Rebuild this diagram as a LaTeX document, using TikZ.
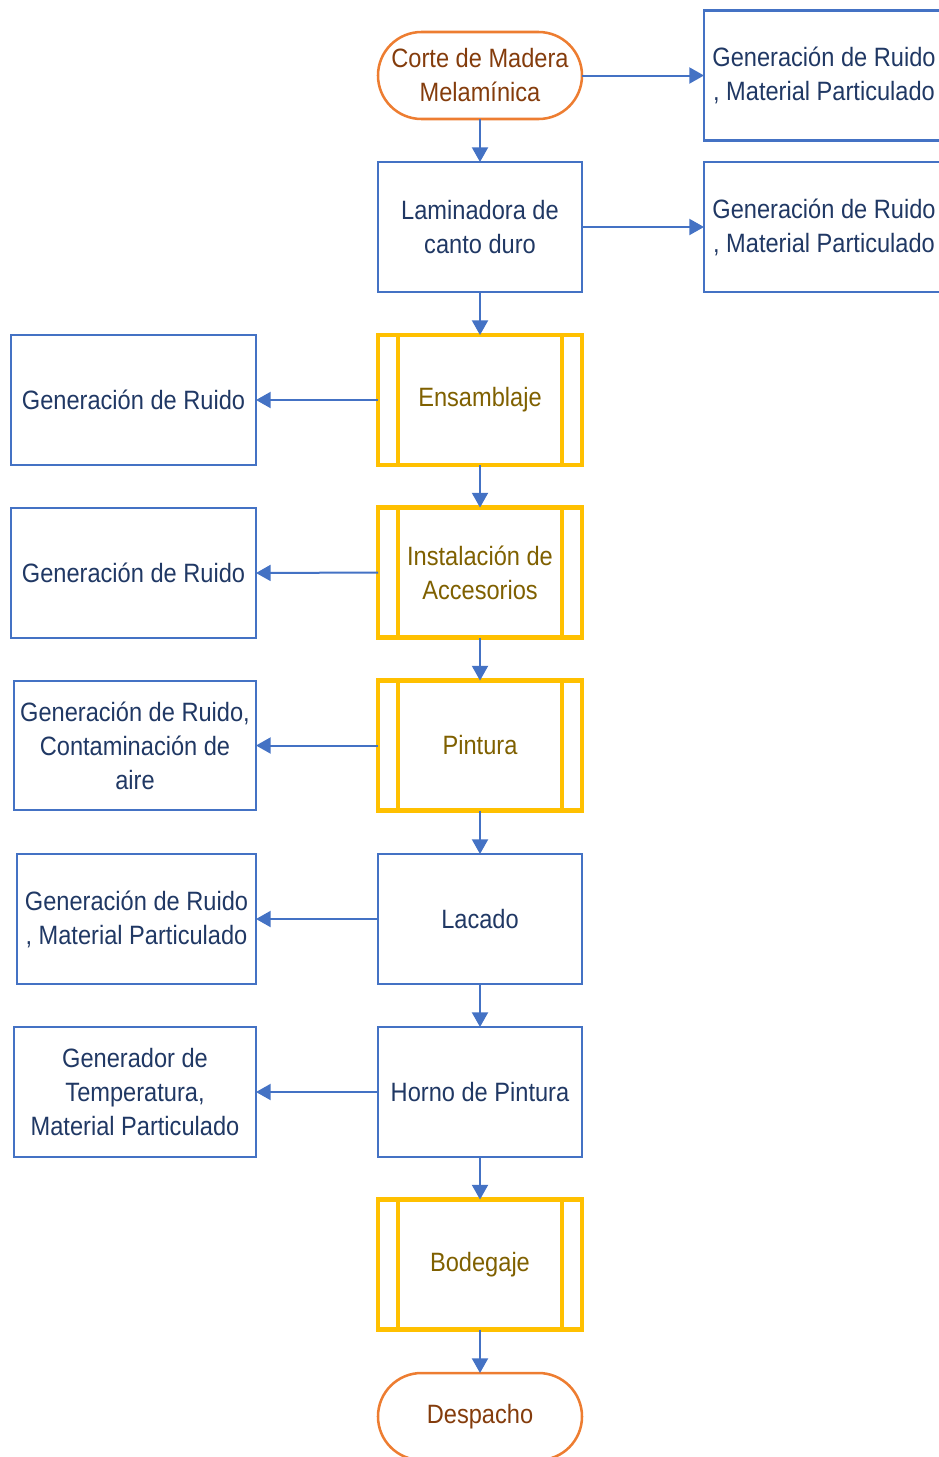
\documentclass[tikz,border=0pt]{standalone}
\usepackage{fontspec}
\setmainfont{Liberation Sans}[FakeStretch=0.89]
\usetikzlibrary{arrows.meta}
\definecolor{bluel}{HTML}{4472C4}
\definecolor{navy}{HTML}{203864}
\definecolor{orangel}{HTML}{ED7D31}
\definecolor{brownt}{HTML}{843C0C}
\definecolor{yell}{HTML}{FFC000}
\definecolor{olivet}{HTML}{7F6000}
\tikzset{
  base/.style={inner sep=0pt, outer sep=0pt, align=center,
    font=\fontsize{19.9}{25.5}\selectfont},
  procbox/.style={base, draw=bluel, line width=1.6pt, text=navy,
    minimum width=153pt, minimum height=97.5pt},
  sidebox/.style={base, draw=bluel, line width=1.6pt, text=navy,
    minimum height=97.5pt},
  termbox/.style={base, draw=orangel, line width=1.9pt, text=brownt,
    minimum width=153pt, minimum height=65.25pt, rounded corners=32.6pt},
  predbox/.style={base, draw=yell, line width=3.4pt, text=olivet,
    minimum width=153pt, minimum height=97.5pt},
  flow/.style={draw=bluel, line width=1.5pt,
    -{Triangle[width=12pt,length=11pt]}},
}
\newcommand\sidebars[1]{%
  \draw[yell, line width=3.4pt]
    ([xshift=15pt]#1.north west) -- ([xshift=15pt]#1.south west)
    ([xshift=-15pt]#1.north east) -- ([xshift=-15pt]#1.south east);}
\begin{document}
\begin{tikzpicture}[x=0.75pt, y=-0.75pt]
\useasboundingbox (0,0) rectangle (939,1457);
\clip (0,0) rectangle (939,1457);

% main column
\node[termbox] (corte) at (480,75.5) {Corte de Madera\\Melamínica};
\node[procbox] (lam) at (480,227) {Laminadora de\\canto duro};
\node[predbox] (ens) at (480,400) {Ensamblaje};
\node[predbox] (ins) at (480,572.5) {Instalación de\\Accesorios};
\node[predbox] (pin) at (480,745.5) {Pintura};
\node[procbox] (lac) at (480,919) {Lacado};
\node[procbox] (hor) at (480,1092) {Horno de Pintura};
\node[predbox] (bod) at (480,1264.5) {Bodegaje};
\node[termbox] (des) at (480,1416.5) {Despacho};
\sidebars{ens}
\sidebars{ins}
\sidebars{pin}
\sidebars{bod}

% right-hand outputs
\node[sidebox, minimum width=180pt] (r1) at (824,75.5)
  {Generación de Ruido\\, Material Particulado};
\node[sidebox, minimum width=180pt] (r2) at (824,227)
  {Generación de Ruido\\, Material Particulado};

% left-hand outputs
\node[sidebox, minimum width=183.75pt] (l1) at (133.5,400) {Generación de Ruido};
\node[sidebox, minimum width=183.75pt] (l2) at (133.5,573) {Generación de Ruido};
\node[sidebox, minimum width=181.5pt, minimum height=96.75pt] (l3) at (135,745.5)
  {Generación de Ruido,\\Contaminación de\\aire};
\node[sidebox, minimum width=179.25pt] (l4) at (136.5,919)
  {Generación de Ruido\\, Material Particulado};
\node[sidebox, minimum width=181.5pt] (l5) at (135,1092)
  {Generador de\\Temperatura,\\Material Particulado};

% process flow
\draw[flow] (corte) -- (lam);
\draw[flow] (lam) -- (ens);
\draw[flow] (ens) -- (ins);
\draw[flow] (ins) -- (pin);
\draw[flow] (pin) -- (lac);
\draw[flow] (lac) -- (hor);
\draw[flow] (hor) -- (bod);
\draw[flow] (bod) -- (des);

% side outputs
\draw[flow] (corte.east) -- (r1.west);
\draw[flow] (lam.east) -- (r2.west);
\draw[flow] (ens.west) -- (l1.east);
\draw[flow] (ins.west) -- (l2.east);
\draw[flow] (pin.west) -- (l3.east);
\draw[flow] (lac.west) -- (l4.east);
\draw[flow] (hor.west) -- (l5.east);
\end{tikzpicture}
\end{document}
